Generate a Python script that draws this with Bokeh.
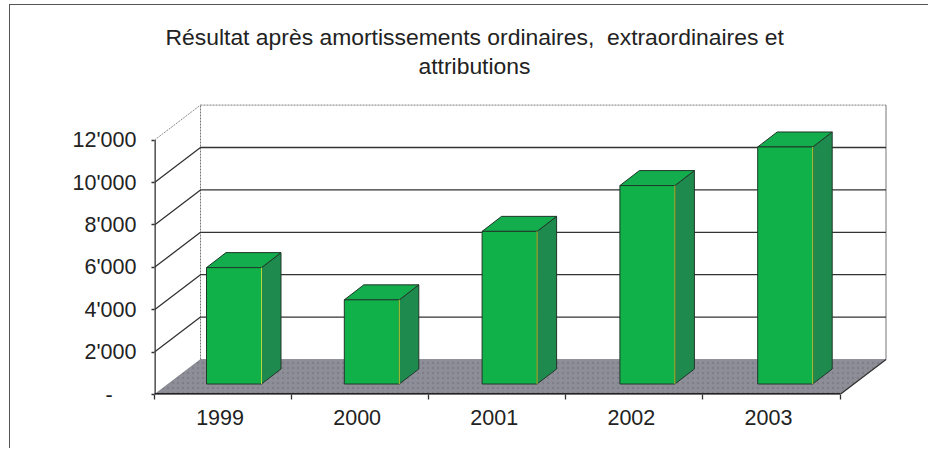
from bokeh.plotting import figure
from bokeh.models import Range1d, FixedTicker, Title, LinearAxis
from bokeh.embed import file_html
from bokeh.resources import INLINE

title_lines = ["Résultat après amortissements ordinaires,\u00a0 extraordinaires et", "attributions"]
years = ["1999", "2000", "2001", "2002", "2003"]
values = [5490, 3970, 7200, 9360, 11180]
y_ticks = [0, 2000, 4000, 6000, 8000, 10000, 12000]
y_labels = ["-\u00a0\u00a0\u00a0\u00a0", "2'000", "4'000", "6'000", "8'000", "10'000", "12'000"]

FONT = "Liberation Sans"
PX_X, PX_Y = 137.1, 0.0212        # pixels per category / per value unit
WALL_DX, WALL_DY = 46 / PX_X, 35 / PX_Y   # depth of the floor
BAR_STEP = 137.8 / PX_X                   # bars are spaced slightly wider than the ticks
BAR_OX, BAR_OY = 10.6 / PX_X, 10.5 / PX_Y # bar front inset from the front edge
BAR_DX, BAR_DY = 19.5 / PX_X, 15 / PX_Y   # depth of each bar
BAR_W = 55 / PX_X
LABEL_SHIFT = -3 / PX_X
FRAME_W, FRAME_H = 774, 314
n = len(years)
ymax = y_ticks[-1]

p = figure(width=918, height=443, output_backend="svg", toolbar_location=None,
           x_range=Range1d(0, FRAME_W / PX_X), y_range=Range1d(0, FRAME_H / PX_Y),
           frame_width=FRAME_W, frame_height=FRAME_H,
           min_border_left=144, min_border_right=0, min_border_top=75, min_border_bottom=54,
           x_axis_type=None, y_axis_type=None, outline_line_color=None,
           background_fill_color="white", border_fill_color="white")
p.styles = {"margin-top": "4px", "margin-left": "9px",
            "border-left": "1.5px solid #555555", "border-top": "1.5px solid #555555"}

yax = LinearAxis(ticker=FixedTicker(ticks=y_ticks),
                 major_label_overrides={t: l for t, l in zip(y_ticks, y_labels)},
                 major_tick_in=0, major_tick_out=3, minor_tick_line_color=None,
                 major_label_standoff=15, major_label_text_font=FONT,
                 major_label_text_font_size="21.5px", major_label_text_color="#222222",
                 axis_line_color=None, major_tick_line_color="#333333", major_tick_line_width=1.3)
p.add_layout(yax, "left")
label_pos = [i + 0.5 + LABEL_SHIFT for i in range(n)]
xax = LinearAxis(ticker=FixedTicker(ticks=label_pos, minor_ticks=list(range(n + 1))),
                 major_label_overrides={x: y for x, y in zip(label_pos, years)},
                 major_tick_in=0, major_tick_out=0, minor_tick_in=0, minor_tick_out=5,
                 major_label_standoff=10, major_label_text_font=FONT,
                 major_label_text_font_size="21.5px", major_label_text_color="#222222",
                 axis_line_color=None, minor_tick_line_color="#333333",
                 minor_tick_line_width=1.3)
p.add_layout(xax, "below")

# titles
t2 = Title(text=title_lines[1], align="left", offset=264, standoff=3,
           text_font=FONT, text_font_size="22.9px", text_font_style="normal", text_color="#222222",
           text_line_height=1.0)
t1 = Title(text=title_lines[0], align="left", offset=11, standoff=0,
           text_font=FONT, text_font_size="22.9px", text_font_style="normal", text_color="#222222",
           text_line_height=1.0)
p.add_layout(t2, "above")
p.add_layout(t1, "above")

# floor
p.patch([0, n, n + WALL_DX, WALL_DX], [0, 0, WALL_DY, WALL_DY], fill_color="#8e8e98",
        line_color="#6f6f78", line_width=0.6, hatch_pattern="dot", hatch_color="#5d5d66",
        hatch_alpha=0.3, hatch_scale=5)

# back wall edges
p.line([WALL_DX, WALL_DX], [WALL_DY, ymax + WALL_DY], line_color="#777777", line_width=1, line_dash="2 1")
p.line([WALL_DX, n + WALL_DX], [ymax + WALL_DY] * 2, line_color="#777777", line_width=1, line_dash="2 1")
p.line([n + WALL_DX] * 2, [WALL_DY, ymax + WALL_DY], line_color="#777777", line_width=1)
p.line([0, WALL_DX], [ymax, ymax + WALL_DY], line_color="#888888", line_width=1, line_dash="2 1")

# grid on the left and back walls
for t in y_ticks[1:-1]:
    p.line([0, WALL_DX, n + WALL_DX], [t, t + WALL_DY, t + WALL_DY], line_color="#333333", line_width=1.3)

# front axis lines (half the width falls on the frame's edge)
p.line([0, 0], [0, ymax], line_color="#333333", line_width=2.6)
p.line([0, n], [0, 0], line_color="#222222", line_width=3)
p.line([n, n + WALL_DX], [0, WALL_DY], line_color="#333333", line_width=1.2)

# bars
for i, v in enumerate(values):
    l = (i + 0.5) * BAR_STEP - BAR_W / 2 + BAR_OX
    r = l + BAR_W
    b = BAR_OY
    t = b + v
    p.patch([r, r + BAR_DX, r + BAR_DX, r], [b, b + BAR_DY, t + BAR_DY, t],
            fill_color="#1f8a4e", line_color="#20372a", line_width=1)
    p.patch([l, r, r + BAR_DX, l + BAR_DX], [t, t, t + BAR_DY, t + BAR_DY],
            fill_color="#14ad4e", line_color="#20372a", line_width=1)
    p.quad(left=[l], right=[r], bottom=[b], top=[t], fill_color="#10b149",
           line_color="#20372a", line_width=1)
    p.line([r, r], [b, t], line_color="#b5d63a", line_width=1)

open("out.html", "w").write(file_html(p, INLINE))
